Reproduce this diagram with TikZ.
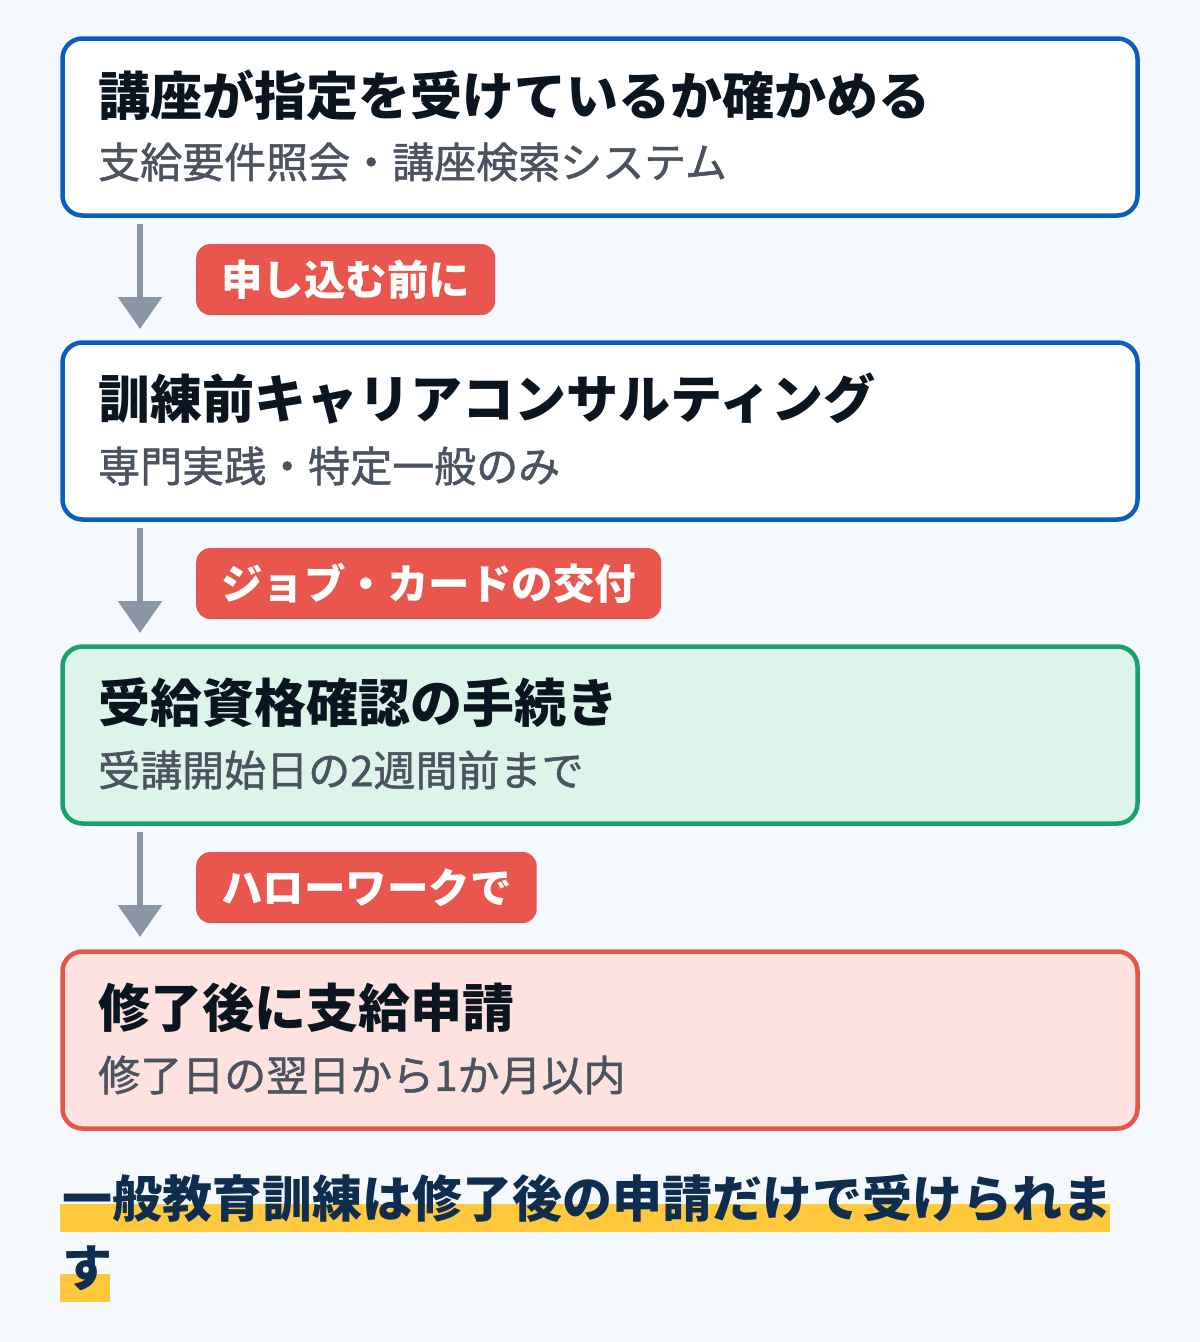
\documentclass[tikz,border=0pt]{standalone}
\usepackage{fontspec}
\usetikzlibrary{arrows.meta}
\setmainfont{Noto Sans CJK JP}
\newfontfamily\subfont{Noto Sans CJK JP}[FakeBold=1.2]
\definecolor{pagebg}{HTML}{F5F9FE}
\definecolor{stepblue}{HTML}{0B5EBE}
\definecolor{stepgreen}{HTML}{18A06E}
\definecolor{greenfill}{HTML}{DDF4EA}
\definecolor{stepred}{HTML}{E5554B}
\definecolor{redfill}{HTML}{FDE2E0}
\definecolor{tagred}{HTML}{E8564D}
\definecolor{arrowgray}{HTML}{8A96A6}
\definecolor{titleink}{HTML}{0B1520}
\definecolor{subink}{HTML}{4B5361}
\definecolor{noteink}{HTML}{0F2D4F}
\definecolor{marker}{HTML}{FFC83D}
\tikzstyle{stepbox}=[rectangle,rounded corners=20pt,line width=4.5pt,minimum width=1075pt,minimum height=177pt,inner sep=0pt]
\tikzstyle{title}=[anchor=west,inner sep=0pt,text=titleink,font=\fontsize{52pt}{56pt}\selectfont\bfseries]
\tikzstyle{sub}=[anchor=west,inner sep=0pt,text=subink,font=\fontsize{42pt}{46pt}\subfont]
\tikzstyle{tag}=[anchor=west,rectangle,rounded corners=14pt,fill=tagred,text=white,minimum height=71pt,inner xsep=25pt,inner ysep=0pt,font=\fontsize{41.5pt}{45pt}\selectfont\bfseries]
\tikzstyle{flow}=[arrowgray,line width=6pt,-{Triangle[width=43pt,length=32pt]}]
\tikzstyle{note}=[anchor=west,inner sep=0pt,text=noteink,font=\fontsize{50pt}{56pt}\selectfont\bfseries]

\begin{document}
\begin{tikzpicture}[x=1pt,y=-1pt]
\fill[pagebg] (0,0) rectangle (1200,1342);
\useasboundingbox (0,0) rectangle (1200,1342);

\node[stepbox,draw=stepblue,fill=white] at (600,127) (box1) {};
\node[stepbox,draw=stepblue,fill=white] at (600,431) (box2) {};
\node[stepbox,draw=stepgreen,fill=greenfill] at (600,735) (box3) {};
\node[stepbox,draw=stepred,fill=redfill] at (600,1040) (box4) {};

\node[title] at (98,95) (t1) {講座が指定を受けているか確かめる};
\node[sub] at (98,162) (s1) {支給要件照会・講座検索システム};
\node[title] at (98,399) (t2) {訓練前キャリアコンサルティング};
\node[sub] at (98,466) (s2) {専門実践・特定一般のみ};
\node[title] at (98,703) (t3) {受給資格確認の手続き};
\node[sub] at (98,770) (s3) {受講開始日の2週間前まで};
\node[title] at (98,1008) (t4) {修了後に支給申請};
\node[sub] at (98,1075) (s4) {修了日の翌日から1か月以内};

\coordinate (a1) at (140,224);
\coordinate (b1) at (140,329);
\coordinate (a2) at (140,528);
\coordinate (b2) at (140,633);
\coordinate (a3) at (140,832);
\coordinate (b3) at (140,937);
\draw[flow] (a1) -- (b1);
\draw[flow] (a2) -- (b2);
\draw[flow] (a3) -- (b3);

\node[tag] at (196,279.5) (g1) {申し込む前に};
\node[tag] at (196,583.5) (g2) {ジョブ・カードの交付};
\node[tag] at (196,887.5) (g3) {ハローワークで};

\fill[marker] (60,1204) rectangle (1110,1232);
\fill[marker] (60,1274) rectangle (110,1302);
\node[note] at (62,1198) (n1) {一般教育訓練は修了後の申請だけで受けられま};
\node[note] at (62,1268) (n2) {す};
\end{tikzpicture}
\end{document}
